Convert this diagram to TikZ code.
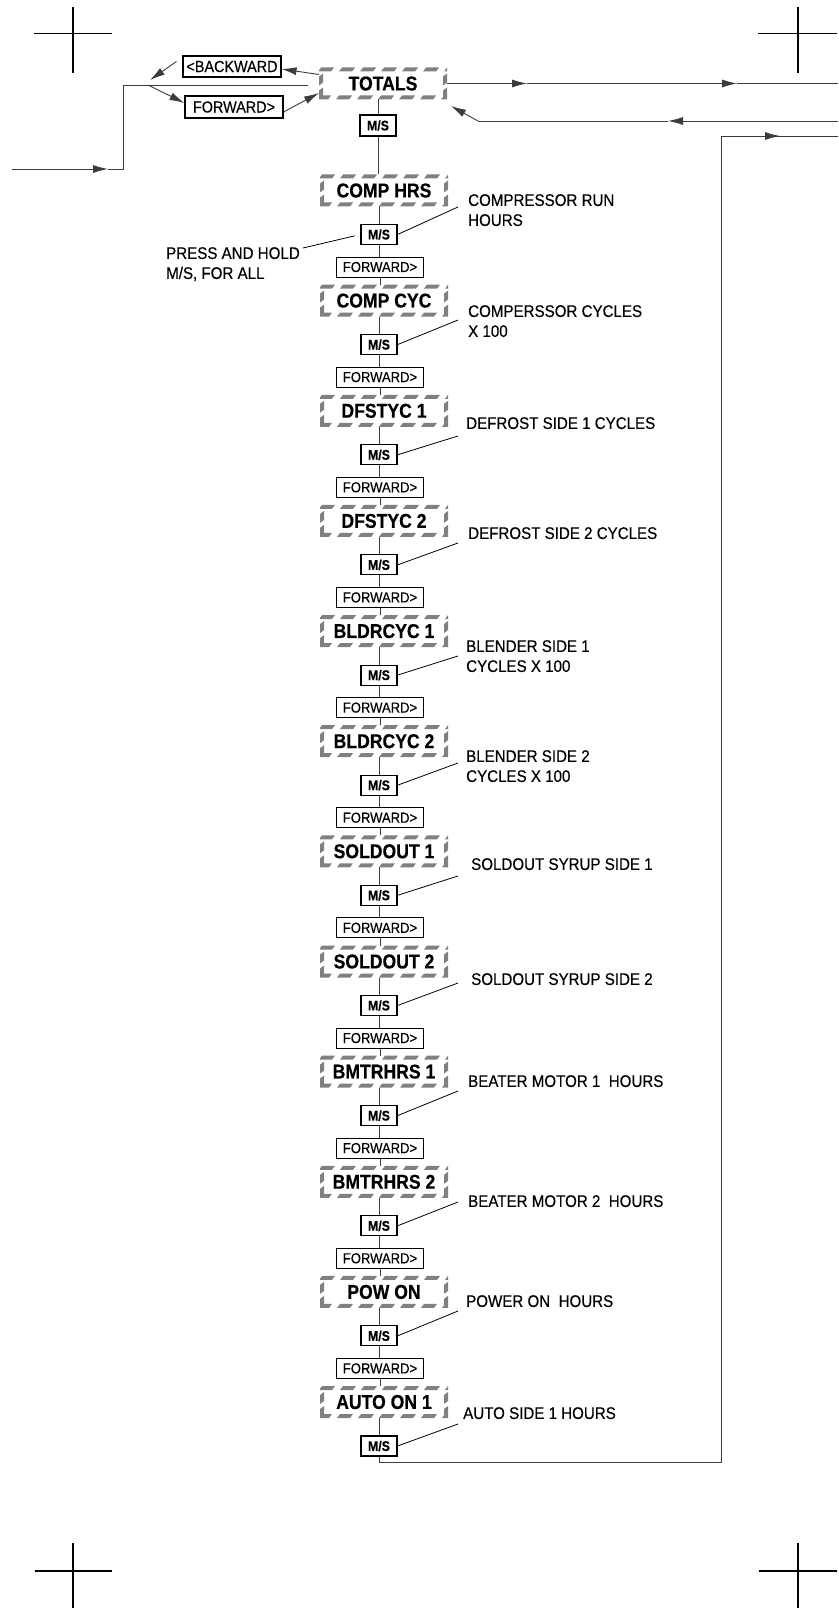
\documentclass[tikz,border=0pt]{standalone}
\usepackage{fontspec}
\setmainfont[FakeStretch=0.9]{Liberation Sans}
\newfontfamily\lblfont[FakeStretch=0.9,FakeBold=0.3]{Liberation Sans}
\newfontfamily\dispfont[FakeStretch=0.88,BoldFeatures={FakeBold=0.5}]{Liberation Sans}
\usetikzlibrary{arrows.meta}
\definecolor{dashgray}{RGB}{128,128,128}
\definecolor{linegray}{RGB}{60,60,60}
\newcommand\hzbox[1]{%
  \begin{scope}[shift={(#1.north west)}]
    \clip (0,0) rectangle (128,32);
    \foreach \k in {0,...,6} {
      \fill[dashgray] (-1+21*\k,4) -- (12+21*\k,4) -- (15+21*\k,0) -- (2+21*\k,0) -- cycle;
      \fill[dashgray] (-4+21*\k,32) -- (9+21*\k,32) -- (12+21*\k,28) -- (-1+21*\k,28) -- cycle;
    }
    \fill[dashgray] (0,9) -- (4,6) -- (4,15) -- (0,18) -- cycle;
    \fill[dashgray] (0,23) -- (4,20) -- (4,28) -- (0,31) -- cycle;
    \fill[dashgray] (124,9) -- (128,6) -- (128,15) -- (124,18) -- cycle;
    \fill[dashgray] (124,23) -- (128,20) -- (128,28) -- (124,31) -- cycle;
  \end{scope}}
\begin{document}
\begin{tikzpicture}[x=1pt,y=-1pt,
  disp/.style={minimum width=128pt, minimum height=32pt, inner sep=0pt, outer sep=0pt,
    font=\fontsize{20}{22}\dispfont\bfseries},
  msbox/.style={draw, line width=1.1pt, minimum width=36pt, minimum height=20pt,
    inner sep=0pt, font=\fontsize{14}{16}\dispfont\bfseries},
  fwbox/.style={draw, line width=1pt, minimum width=87pt, minimum height=20pt,
    inner sep=0pt, font=\fontsize{14.5}{16}\lblfont},
  topbox/.style={draw, line width=1.1pt, minimum width=98pt, minimum height=21pt,
    inner sep=0pt, font=\fontsize{16}{18}\lblfont},
  lbl/.style={anchor=north west, inner sep=0pt, align=left,
    font=\fontsize{16.8}{20}\lblfont},
  conn/.style={line width=0.9pt, draw=linegray},
  arr/.style={conn, -{Latex[length=15pt,width=8pt]}},
  crop/.style={line width=1.8pt, draw=black}
]
\useasboundingbox (0,0) rectangle (838,1608);

% crop marks
\draw[crop] (34,33.5) -- (112,33.5); \draw[crop] (73,7) -- (73,73);
\draw[crop] (758,33.5) -- (837,33.5); \draw[crop] (798,7) -- (798,73);
\draw[crop] (35,1571) -- (112,1571); \draw[crop] (73,1543) -- (73,1608);
\draw[crop] (759,1571) -- (837,1571); \draw[crop] (798,1543) -- (798,1608);

% top part
\node[disp] (totals) at (383,83.5) {TOTALS};
\node[msbox, minimum height=21pt] (ms0) at (378,125.5) {M/S};
\node[topbox] (bk) at (232,66.5) {<BACKWARD};
\node[topbox, minimum height=22pt] (fwt) at (234,107) {FORWARD>};

% chain
\node[disp] (d1) at (384,190.5) {COMP HRS};
\node[disp] (d2) at (384,300.6) {COMP CYC};
\node[disp] (d3) at (384,410.8) {DFSTYC 1};
\node[disp] (d4) at (384,520.9) {DFSTYC 2};
\node[disp] (d5) at (384,631.1) {BLDRCYC 1};
\node[disp] (d6) at (384,741.2) {BLDRCYC 2};
\node[disp] (d7) at (384,851.3) {SOLDOUT 1};
\node[disp] (d8) at (384,961.5) {SOLDOUT 2};
\node[disp] (d9) at (384,1071.6) {BMTRHRS 1};
\node[disp] (d10) at (384,1181.8) {BMTRHRS 2};
\node[disp] (d11) at (384,1291.9) {POW ON};
\node[disp] (d12) at (384,1402) {AUTO ON 1};

\foreach \n in {totals,d1,d2,d3,d4,d5,d6,d7,d8,d9,d10,d11,d12}{\hzbox{\n}}

\node[msbox] (ms1) at (379,234.5) {M/S};
\node[msbox] (ms2) at (379,344.6) {M/S};
\node[msbox] (ms3) at (379,454.8) {M/S};
\node[msbox] (ms4) at (379,564.9) {M/S};
\node[msbox] (ms5) at (379,675.1) {M/S};
\node[msbox] (ms6) at (379,785.2) {M/S};
\node[msbox] (ms7) at (379,895.3) {M/S};
\node[msbox] (ms8) at (379,1005.5) {M/S};
\node[msbox] (ms9) at (379,1115.6) {M/S};
\node[msbox] (ms10) at (379,1225.8) {M/S};
\node[msbox] (ms11) at (379,1335.9) {M/S};
\node[msbox] (ms12) at (379,1446) {M/S};

\node[fwbox] (fw1) at (380,267) {FORWARD>};
\node[fwbox] (fw2) at (380,377.1) {FORWARD>};
\node[fwbox] (fw3) at (380,487.3) {FORWARD>};
\node[fwbox] (fw4) at (380,597.4) {FORWARD>};
\node[fwbox] (fw5) at (380,707.6) {FORWARD>};
\node[fwbox] (fw6) at (380,817.7) {FORWARD>};
\node[fwbox] (fw7) at (380,927.8) {FORWARD>};
\node[fwbox] (fw8) at (380,1038) {FORWARD>};
\node[fwbox] (fw9) at (380,1148.1) {FORWARD>};
\node[fwbox] (fw10) at (380,1258.3) {FORWARD>};
\node[fwbox] (fw11) at (380,1368.4) {FORWARD>};

% vertical chain connectors
\draw[conn] (ms0.north) -- (ms0.north |- totals.south);
\draw[conn] (ms0.south) -- (ms0.south |- d1.north);
\foreach \i in {1,...,12}{
  \draw[conn] (ms\i.north) -- (ms\i.north |- d\i.south);
}
\foreach \i in {1,...,11}{
  \draw[conn] (ms\i.south) -- (ms\i.south |- fw\i.north);
  \pgfmathtruncatemacro{\j}{\i+1}
  \draw[conn] (fw\i.south) -- (fw\i.south |- d\j.north);
}

% labels
\node[lbl] (t1) at (468,194) {COMPRESSOR RUN\\HOURS};
\node[lbl] (t2) at (468,305) {COMPERSSOR CYCLES\\X 100};
\node[lbl] (t3) at (466,417) {DEFROST SIDE 1 CYCLES};
\node[lbl] (t4) at (468,527) {DEFROST SIDE 2 CYCLES};
\node[lbl] (t5) at (466,640) {BLENDER SIDE 1\\CYCLES X 100};
\node[lbl] (t6) at (466,750) {BLENDER SIDE 2\\CYCLES X 100};
\node[lbl] (t7) at (471,858) {SOLDOUT SYRUP SIDE 1};
\node[lbl] (t8) at (471,973) {SOLDOUT SYRUP SIDE 2};
\node[lbl] (t9) at (468,1075) {BEATER MOTOR 1\ \ HOURS};
\node[lbl] (t10) at (468,1195) {BEATER MOTOR 2\ \ HOURS};
\node[lbl] (t11) at (466,1295) {POWER ON\ \ HOURS};
\node[lbl] (t12) at (463,1407) {AUTO SIDE 1 HOURS};
\node[lbl] (press) at (166,247) {PRESS AND HOLD\\M/S, FOR ALL};

% leader lines
\coordinate (l1) at (458,207);
\coordinate (l2) at (458,320);
\coordinate (l3) at (458,436);
\coordinate (l4) at (458,543);
\coordinate (l5) at (458,656);
\coordinate (l6) at (458,763);
\coordinate (l7) at (458,876);
\coordinate (l8) at (458,983);
\coordinate (l9) at (458,1091);
\coordinate (l10) at (458,1202);
\coordinate (l11) at (458,1311);
\coordinate (l12) at (458,1424);
\foreach \i in {1,...,12}{
  \draw[line width=0.8pt] (ms\i.east) -- (l\i);
}
\coordinate (pl) at (303,248);
\draw[line width=0.8pt, shorten >=6pt] (pl) -- (ms1.west);

% left entry structure
\coordinate (in) at (12,169);
\coordinate (inarr) at (108,169);
\coordinate (hb) at (123,169);
\coordinate (hl) at (123,85);
\coordinate (hr) at (308,85);
\coordinate (jb) at (148,85);
\coordinate (bkend) at (150,80);
\draw[arr] (in) -- (inarr);
\draw[conn] (inarr) -- (hb) -- (hl) -- (hr);
\draw[arr] ([yshift=9pt]totals.west) -- ([yshift=-2.5pt]bk.east);
\draw[arr] ([shift={(-6pt,5pt)}]bk.west) -- (bkend);
\draw[arr] (jb) -- ([yshift=4pt]fwt.west);
\draw[arr] ([yshift=-5pt]fwt.east) -- ([yshift=-9.5pt]totals.west);

% right side loops
\coordinate (a1) at (527,83.5);
\coordinate (a2) at (737,83.5);
\coordinate (re) at (838,83.5);
\draw[arr] (totals.east) -- (a1);
\draw[arr] (a1) -- (a2);
\draw[conn] (a2) -- (re);

\coordinate (rs) at (838,121);
\coordinate (ra) at (668,121);
\coordinate (rc) at (478,121);
\coordinate (rt) at (451,106);
\draw[arr] (rs) -- (ra);
\draw[conn] (ra) -- (rc);
\draw[arr] (rc) -- (rt);

\coordinate (bc) at (721,1462);
\coordinate (tc) at (721,136);
\coordinate (ia) at (780,136);
\coordinate (ie) at (838,136);
\draw[conn] (ms12.south) -- (ms12.south |- bc) -- (bc) -- (tc) -- (ia);
\draw[arr] (tc) -- (ia);
\draw[conn] (ia) -- (ie);
\end{tikzpicture}
\end{document}
